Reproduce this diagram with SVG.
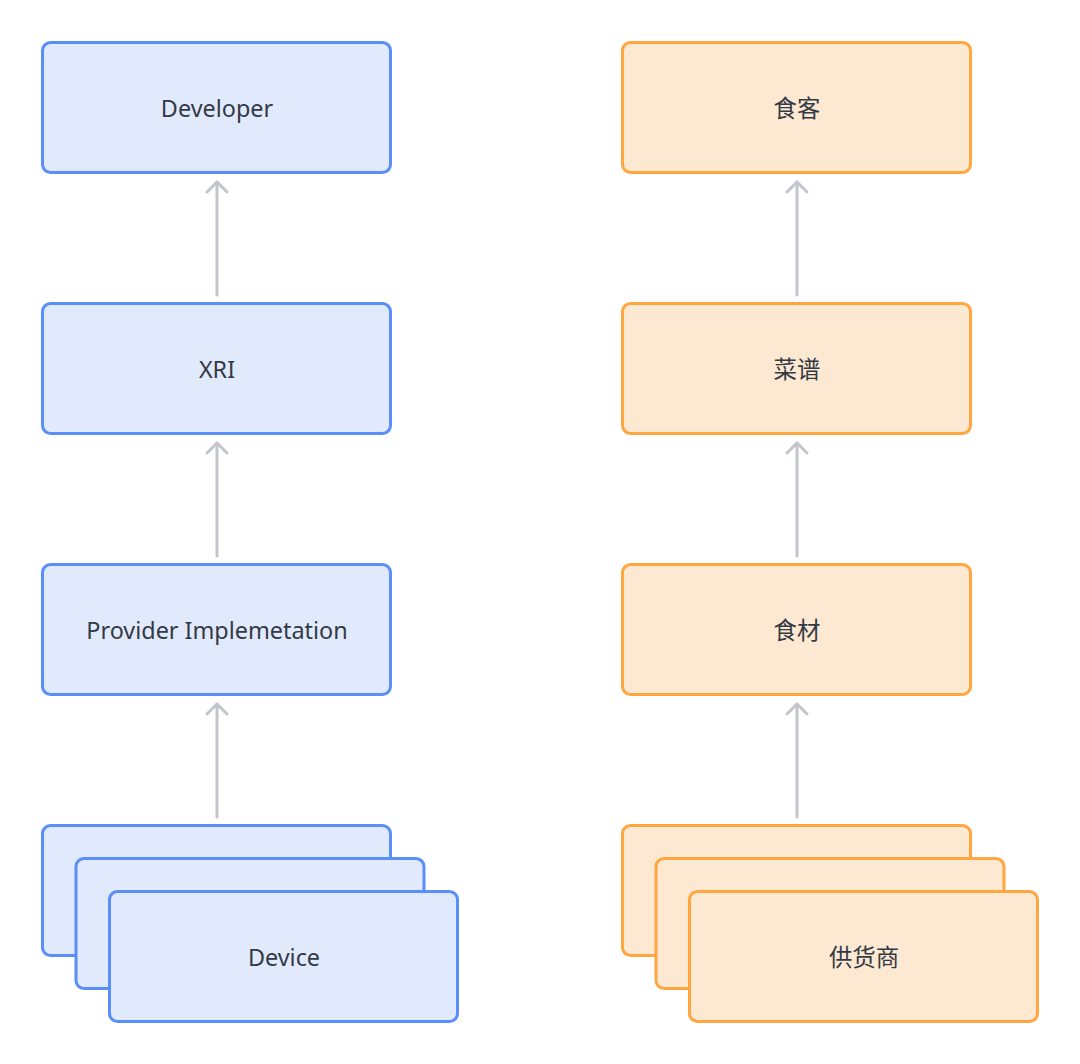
<svg xmlns="http://www.w3.org/2000/svg" width="1080" height="1064" viewBox="0 0 1080 1064">
<defs>
<style>
.b{fill:#e1e9fd;stroke:#5a8ef8;stroke-width:3}
.o{fill:#fde8d2;stroke:#ffa640;stroke-width:3}
.t{font-family:"Noto Sans","Noto Sans CJK SC",sans-serif;font-size:23.4px;fill:#333a45;text-anchor:middle;dominant-baseline:central}
.c{stroke:#c2c5cb;stroke-width:3;fill:none;stroke-linecap:round;stroke-linejoin:round}
</style>
</defs>
<rect width="1080" height="1064" fill="#fff"/>
<g id="connectors">
<line class="c" x1="217" y1="295" x2="217" y2="182"/>
<path class="c" d="M207 192 L217 182 L227 192"/>
<line class="c" x1="217" y1="556" x2="217" y2="443"/>
<path class="c" d="M207 453 L217 443 L227 453"/>
<line class="c" x1="217" y1="817" x2="217" y2="704"/>
<path class="c" d="M207 714 L217 704 L227 714"/>
<line class="c" x1="797" y1="295" x2="797" y2="182"/>
<path class="c" d="M787 192 L797 182 L807 192"/>
<line class="c" x1="797" y1="556" x2="797" y2="443"/>
<path class="c" d="M787 453 L797 443 L807 453"/>
<line class="c" x1="797" y1="817" x2="797" y2="704"/>
<path class="c" d="M787 714 L797 704 L807 714"/>
</g>
<g id="developer"><rect class="b" x="42.5" y="42.5" width="348" height="130" rx="8"/><text class="t" x="217" y="108">Developer</text></g>
<g id="xri"><rect class="b" x="42.5" y="303.5" width="348" height="130" rx="8"/><text class="t" x="217" y="369">XRI</text></g>
<g id="provider"><rect class="b" x="42.5" y="564.5" width="348" height="130" rx="8"/><text class="t" x="217" y="630">Provider Implemetation</text></g>
<g id="device">
<rect class="b" x="42.5" y="825.5" width="348" height="130" rx="8"/>
<rect class="b" x="76" y="858.5" width="348" height="130" rx="8"/>
<rect class="b" x="109.5" y="891.5" width="348" height="130" rx="8"/>
<text class="t" x="284" y="957">Device</text></g>
<g id="shike"><rect class="o" x="622.5" y="42.5" width="348" height="130" rx="8"/><text class="t" x="797" y="108">食客</text></g>
<g id="caipu"><rect class="o" x="622.5" y="303.5" width="348" height="130" rx="8"/><text class="t" x="797" y="369">菜谱</text></g>
<g id="shicai"><rect class="o" x="622.5" y="564.5" width="348" height="130" rx="8"/><text class="t" x="797" y="630">食材</text></g>
<g id="gonghuoshang">
<rect class="o" x="622.5" y="825.5" width="348" height="130" rx="8"/>
<rect class="o" x="656" y="858.5" width="348" height="130" rx="8"/>
<rect class="o" x="689.5" y="891.5" width="348" height="130" rx="8"/>
<text class="t" x="864" y="957">供货商</text></g>
</svg>
